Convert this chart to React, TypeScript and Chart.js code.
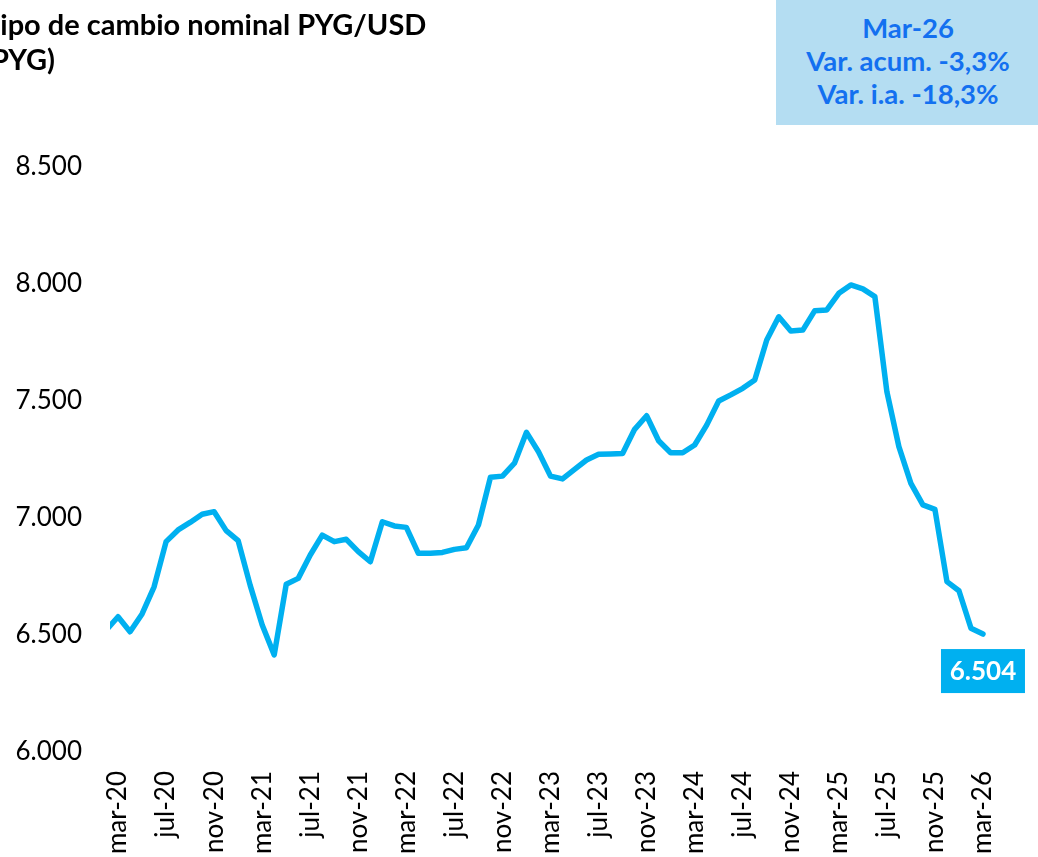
import React, { useEffect, useRef } from "react";
import { Chart, registerables } from "chart.js";

Chart.register(...registerables);

// Monthly categories (feb-20 is partly outside the plot on the left)
const categories: string[] = [
  "feb-20", "mar-20", "abr-20", "may-20", "jun-20", "jul-20", "ago-20", "sep-20", "oct-20", "nov-20", "dic-20",
  "ene-21", "feb-21", "mar-21", "abr-21", "may-21", "jun-21", "jul-21", "ago-21", "sep-21", "oct-21", "nov-21", "dic-21",
  "ene-22", "feb-22", "mar-22", "abr-22", "may-22", "jun-22", "jul-22", "ago-22", "sep-22", "oct-22", "nov-22", "dic-22",
  "ene-23", "feb-23", "mar-23", "abr-23", "may-23", "jun-23", "jul-23", "ago-23", "sep-23", "oct-23", "nov-23", "dic-23",
  "ene-24", "feb-24", "mar-24", "abr-24", "may-24", "jun-24", "jul-24", "ago-24", "sep-24", "oct-24", "nov-24", "dic-24",
  "ene-25", "feb-25", "mar-25", "abr-25", "may-25", "jun-25", "jul-25", "ago-25", "sep-25", "oct-25", "nov-25", "dic-25",
  "ene-26", "feb-26", "mar-26",
];

// PYG per USD
const pygUsd: number[] = [
  6520, 6578, 6514, 6590, 6706, 6899, 6949, 6981, 7016, 7027, 6946,
  6903, 6712, 6543, 6415, 6717, 6742, 6842, 6927, 6899, 6909, 6856, 6813,
  6984, 6966, 6960, 6849, 6849, 6853, 6866, 6873, 6970, 7174, 7179, 7234,
  7366, 7283, 7179, 7167, 7208, 7248, 7272, 7274, 7276, 7379, 7437, 7330,
  7279, 7279, 7312, 7397, 7500, 7526, 7554, 7590, 7761, 7860, 7799, 7803,
  7886, 7889, 7960, 7996, 7979, 7946, 7540, 7305, 7148, 7056, 7037, 6728,
  6689, 6529, 6504,
];

const xTickLabels: string[] = [
  "mar-20", "jul-20", "nov-20", "mar-21", "jul-21", "nov-21", "mar-22", "jul-22", "nov-22",
  "mar-23", "jul-23", "nov-23", "mar-24", "jul-24", "nov-24", "mar-25", "jul-25", "nov-25", "mar-26",
];

const yTicks: number[] = [6000, 6500, 7000, 7500, 8000, 8500];

const titleLines: string[] = ["Tipo de cambio nominal PYG/USD", "(PYG)"];
const infoLines: string[] = ["Mar-26", "Var. acum. -3,3%", "Var. i.a. -18,3%"];

const LINE_COLOR = "#00B0F0";
const FONT = "Lato, 'Open Sans', sans-serif";

const fmt = (v: number) => Math.round(v).toString().replace(/\B(?=(\d{3})+(?!\d))/g, ".");

const lastLabelPlugin = {
  id: "lastLabel",
  afterDatasetsDraw(chart: any) {
    const meta = chart.getDatasetMeta(0);
    const pt = meta.data[meta.data.length - 1];
    if (!pt) return;
    const ds = chart.data.datasets[0].data;
    const val = ds[ds.length - 1].y;
    const ctx = chart.ctx;
    const w = 84, h = 44;
    const cx = pt.x;
    const top = pt.y + 15;
    ctx.save();
    ctx.fillStyle = LINE_COLOR;
    ctx.fillRect(cx - w / 2, top, w, h);
    ctx.fillStyle = "#ffffff";
    ctx.font = `bold 26px ${FONT}`;
    ctx.textAlign = "center";
    ctx.textBaseline = "middle";
    ctx.fillText(fmt(val), cx, top + h / 2 + 1);
    ctx.restore();
  },
};

export default function App() {
  const ref = useRef<HTMLCanvasElement | null>(null);

  useEffect(() => {
    if (!ref.current) return;
    const points = pygUsd.map((v, i) => ({ x: i - 1, y: v }));
    const chart = new Chart(ref.current, {
      type: "line",
      data: {
        datasets: [
          {
            data: points,
            borderColor: LINE_COLOR,
            borderWidth: 5.5,
            pointRadius: 0,
            tension: 0,
            fill: false,
            clip: 0,
            borderCapStyle: "round",
            borderJoinStyle: "round",
          } as any,
        ],
      },
      options: {
        animation: false,
        responsive: false,
        events: [],
        layout: { padding: { top: 167, right: 31, bottom: 0, left: 0 } },
        plugins: { legend: { display: false }, tooltip: { enabled: false }, title: { display: false } },
        scales: {
          x: {
            type: "linear",
            min: -0.67,
            max: 74,
            grid: { display: false, drawTicks: false },
            border: { display: false },
            afterFit: (s: any) => {
              s.height = 105;
            },
            afterBuildTicks: (s: any) => {
              s.ticks = xTickLabels.map((l) => ({ value: categories.indexOf(l) - 1 }));
            },
            ticks: {
              autoSkip: false,
              minRotation: 90,
              maxRotation: 90,
              padding: 19,
              color: "#000",
              font: { family: FONT, size: 26 },
              callback: (v: any) => categories[Number(v) + 1] || "",
            },
          },
          y: {
            type: "linear",
            min: yTicks[0],
            max: yTicks[yTicks.length - 1],
            grid: { display: false, drawTicks: false },
            border: { display: false },
            afterFit: (s: any) => {
              s.width = 110;
            },
            afterBuildTicks: (s: any) => {
              s.ticks = yTicks.map((v) => ({ value: v }));
            },
            ticks: {
              padding: 28,
              color: "#000",
              font: { family: FONT, size: 26 },
              callback: (v: any) => fmt(Number(v)),
            },
          },
        },
      },
      plugins: [lastLabelPlugin],
    });
    return () => chart.destroy();
  }, []);

  const titleSize = 29;
  const infoSize = 27.5;

  return (
    <div style={{ position: "absolute", left: 0, top: 0, width: 1038, height: 857, overflow: "hidden", background: "#fff" }}>
      <canvas ref={ref} width={1038} height={857} style={{ position: "absolute", left: 0, top: 0 }} />
      {titleLines.map((t, i) => (
        <div
          key={t}
          style={{
            position: "absolute",
            left: -17,
            top: [25, 60][i] - 0.62 * titleSize,
            fontFamily: FONT,
            fontWeight: 700,
            fontSize: titleSize,
            lineHeight: `${1.2 * titleSize}px`,
            color: "#000",
            whiteSpace: "nowrap",
          }}
        >
          {t}
        </div>
      ))}
      <div style={{ position: "absolute", left: 776, top: 0, width: 262, height: 125, background: "#B4DDF2" }}>
        {infoLines.map((t, i) => (
          <div
            key={t}
            style={{
              position: "absolute",
              left: 0,
              width: 264,
              textAlign: "center",
              top: [28, 61, 94][i] - 0.62 * infoSize,
              fontFamily: FONT,
              fontWeight: 700,
              fontSize: infoSize,
              lineHeight: `${1.2 * infoSize}px`,
              color: "#1370F0",
              whiteSpace: "nowrap",
            }}
          >
            {t}
          </div>
        ))}
      </div>
    </div>
  );
}
